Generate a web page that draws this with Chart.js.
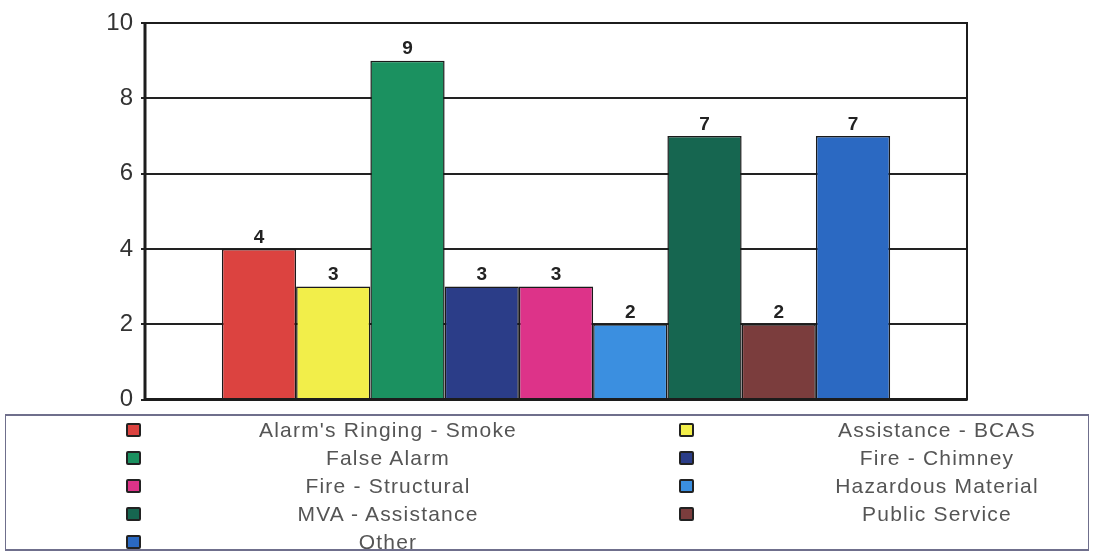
<!DOCTYPE html>
<html>
<head>
<meta charset="utf-8">
<script src="https://cdn.jsdelivr.net/npm/chart.js@4/dist/chart.umd.min.js"></script>
<style>
  html, body { margin: 0; padding: 0; background: #fff; }
  body { width: 1097px; height: 556px; position: relative; overflow: hidden; font-family: "Liberation Sans", Arial, sans-serif; }
  #wrap { position: absolute; left: 0; top: 0; width: 1097px; height: 422px; }
  #legend { position: absolute; left: 5px; top: 414px; width: 1084px; height: 137px;
    border: 1.5px solid #6f6f8c; border-top-width: 2px; border-bottom-width: 2px; box-sizing: border-box; background: #fff; }
  .item { position: absolute; height: 28px; line-height: 28px; }
  .box { position: absolute; width: 11px; height: 10px; border: 2px solid #222; border-radius: 2px; top: 7px; }
  .txt { position: absolute; top: 0; width: 340px; text-align: center; font-size: 21px; color: #555; letter-spacing: 1.2px; white-space: nowrap; }
</style>
</head>
<body>
<div id="wrap"><canvas id="chart"></canvas></div>
<div id="legend"></div>
<script>
// incident types, in bar order
const categories = ["Alarm's Ringing - Smoke", 'Assistance - BCAS', 'False Alarm', 'Fire - Chimney',
  'Fire - Structural', 'Hazardous Material', 'MVA - Assistance', 'Public Service', 'Other'];
const counts = [4, 3, 9, 3, 3, 2, 7, 2, 7];
const colors = ['#dc4340', '#f2ee4a', '#1b9160', '#2b3d88', '#dd3389', '#3b8fe0', '#166650', '#7b3d3d', '#2b69c2'];
const yTicks = [0, 2, 4, 6, 8, 10];

// outline of the plot area
const frame = {
  id: 'frame',
  afterDatasetsDraw(chart) {
    const a = chart.chartArea, c = chart.ctx;
    c.save();
    c.strokeStyle = '#1c1c1c';
    c.lineWidth = 2;
    c.strokeRect(a.left, a.top, a.right - a.left, a.bottom - a.top);
    c.lineWidth = 3;
    c.beginPath();
    c.moveTo(a.left, a.top);
    c.lineTo(a.left, a.bottom);
    c.lineTo(a.right, a.bottom);
    c.stroke();
    c.restore();
  }
};

// value labels above each bar
const valueLabels = {
  id: 'valueLabels',
  afterDatasetsDraw(chart) {
    const c = chart.ctx;
    c.save();
    c.font = 'bold 19px "Liberation Sans", Arial, sans-serif';
    c.fillStyle = '#222';
    c.textAlign = 'center';
    c.textBaseline = 'bottom';
    chart.data.datasets.forEach((ds, i) => {
      const bar = chart.getDatasetMeta(i).data[0];
      c.fillText(ds.data[0], bar.x, bar.y - 2);
    });
    c.restore();
  }
};

new Chart(document.getElementById('chart'), {
  type: 'bar',
  data: {
    labels: [''],
    datasets: categories.map((name, i) => ({
      label: name,
      data: [counts[i]],
      backgroundColor: colors[i],
      borderColor: '#1a1a1a',
      borderWidth: 1.5
    }))
  },
  options: {
    responsive: true,
    maintainAspectRatio: false,
    animation: false,
    categoryPercentage: 0.813,
    barPercentage: 1.0,
    layout: { padding: { top: 23, right: 130, bottom: 11, left: 0 } },
    plugins: { legend: { display: false }, tooltip: { enabled: false } },
    scales: {
      x: { display: false },
      y: {
        min: 0,
        max: 10,
        afterBuildTicks: s => { s.ticks = yTicks.map(v => ({ value: v })); },
        afterFit: s => { s.width = 145; },
        border: { display: false },
        grid: { color: '#222', lineWidth: 2, drawTicks: true, tickLength: 4, tickColor: '#222' },
        ticks: { color: '#333', padding: 8, font: { size: 24, family: '"Liberation Sans", Arial, sans-serif' } }
      }
    }
  },
  plugins: [frame, valueLabels]
});

// two-column legend under the chart
const legend = document.getElementById('legend');
categories.forEach((name, i) => {
  const col = i % 2, row = Math.floor(i / 2);
  const item = document.createElement('div');
  item.className = 'item';
  item.style.top = (row * 28) + 'px';
  item.style.left = '0px';
  const box = document.createElement('div');
  box.className = 'box';
  box.style.left = (col ? 673 : 120) + 'px';
  box.style.background = colors[i];
  const txt = document.createElement('div');
  txt.className = 'txt';
  txt.style.left = (col ? 761 : 212) + 'px';
  txt.textContent = name;
  item.appendChild(box);
  item.appendChild(txt);
  legend.appendChild(item);
});
</script>
</body>
</html>
